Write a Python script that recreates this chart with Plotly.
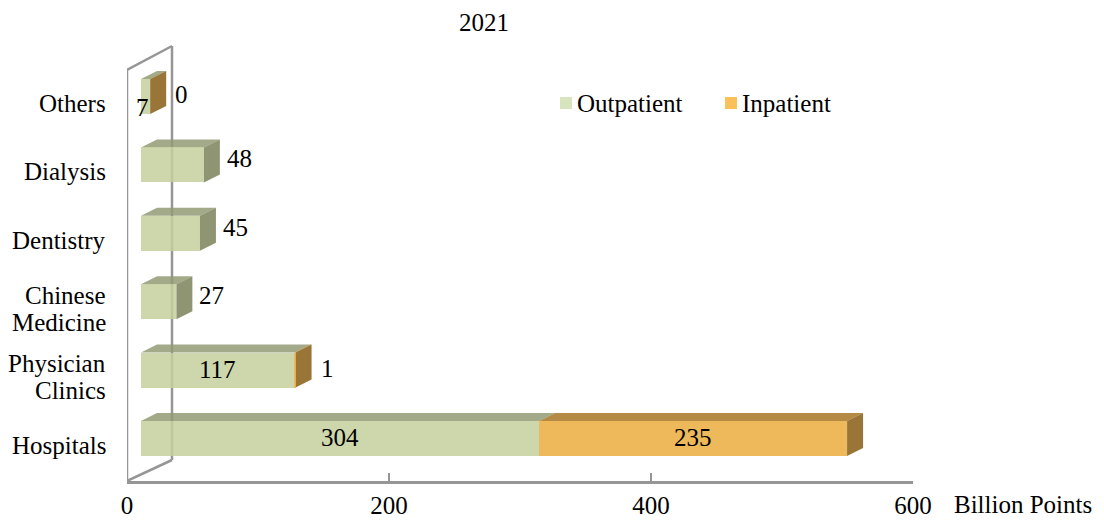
import plotly.graph_objects as go

# ---------------- data ----------------
categories = ["Hospitals", "Physician\nClinics", "Chinese\nMedicine", "Dentistry", "Dialysis", "Others"]
outpatient = [304, 117, 27, 45, 48, 7]
inpatient = [235, 1, None, None, None, 0]
x_ticks = [0, 200, 400, 600]
title_text = "2021"
x_unit = "Billion Points"
series_names = ["Outpatient", "Inpatient"]

# label placement (style)
out_label_pos = ["inside", "inside", "outside", "outside", "outside", "low"]

# ---------------- geometry / style ----------------
PAGE = 8                    # browser body margin
W, H = 1104 - PAGE, 520 - PAGE
ML, MT = 127, 20            # reference-frame pixel positions of plot area
PW, PH = 786, 461
XMAX = 600
K = PW / XMAX               # px per unit
OFF = 14 / K                # bar front-face offset from floor front
DX = 16 / K                 # bar depth (x)
DY = 8                      # bar depth (y, px == y units)
BAR_H = 35
Y0 = 42.5
STEP = 68.4
WALL_DX = 45 / K
WALL_DY = 21
FONT = "Liberation Serif"
FS = 25
GREY = "rgb(150,150,150)"
BOTTOM = MT + PH            # 481

front = ["rgba(197,207,157,0.85)", "rgba(234,173,61,0.85)"]
top = ["rgba(147,155,117,0.85)", "rgba(168,117,36,0.85)"]
side = ["rgba(123,131,91,0.85)", "rgba(136,93,21,0.85)"]
legend_col = ["rgb(215,228,189)", "rgb(250,192,90)"]

ypos = [Y0 + i * STEP for i in range(len(categories))]

fig = go.Figure()
shapes = []
annotations = []


def px_x(px):
    return (px - ML) / PW


def px_y(py):
    return (BOTTOM - py) / PH


def line(x0, y0, x1, y1, layer="below"):
    shapes.append(dict(type="line", xref="x", yref="y", x0=x0, y0=y0, x1=x1, y1=y1,
                       line=dict(color=GREY, width=2.5), layer=layer))


# side wall
line(WALL_DX, WALL_DY, WALL_DX, BOTTOM - 46)
line(0, 0, WALL_DX, WALL_DY)
line(0, BOTTOM - 70, WALL_DX, BOTTOM - 46)
line(0, 0, 0, BOTTOM - 70, layer="above")


def poly(pts, color):
    path = "M " + " L ".join(f"{x},{y}" for x, y in pts) + " Z"
    shapes.append(dict(type="path", xref="x", yref="y", path=path,
                       fillcolor=color, line=dict(width=0), layer="below"))


# bars (front faces)
series = [outpatient, inpatient]
for s, vals in enumerate(series):
    xs, ys, bases = [], [], []
    for i, v in enumerate(vals):
        if v is None:
            continue
        cum = sum((series[k][i] or 0) for k in range(s))
        xs.append(v)
        ys.append(ypos[i])
        bases.append(OFF + cum)
    fig.add_trace(go.Bar(x=xs, y=ys, base=bases, orientation="h", width=BAR_H,
                         marker=dict(color=front[s], line=dict(width=0)),
                         name=series_names[s], showlegend=False, hoverinfo="skip"))

# top and side faces
for i in range(len(categories)):
    yc = ypos[i]
    yt = yc + BAR_H / 2
    yb = yc - BAR_H / 2
    cum = 0
    last = 0
    for s, vals in enumerate(series):
        v = vals[i]
        if v is None:
            continue
        x0 = OFF + cum
        x1 = OFF + cum + v
        poly([(x0, yt), (x1, yt), (x1 + DX, yt + DY), (x0 + DX, yt + DY)], top[s])
        cum += v
        last = s
    xe = OFF + cum
    poly([(xe, yb), (xe, yt), (xe + DX, yt + DY), (xe + DX, yb + DY)], side[last])


def ann(x, y, text, xanchor="center", xshift=0, yshift=0, xref="x", yref="y"):
    annotations.append(dict(x=x, y=y, xref=xref, yref=yref, text=text, showarrow=False,
                            xanchor=xanchor, yanchor="middle", xshift=xshift, yshift=yshift,
                            borderpad=0,
                            font=dict(family=FONT, size=FS, color="black")))


# value labels
for i in range(len(categories)):
    v = outpatient[i]
    yc = ypos[i]
    pos = out_label_pos[i]
    if pos == "inside":
        ann(OFF + v / 2, yc, str(v), yshift=1)
    elif pos == "outside":
        ann(OFF + v + DX, yc, str(v), xanchor="left", xshift=6, yshift=6)
    else:
        ann(OFF + v / 2, yc, str(v), xshift=-3, yshift=-11)
    w = inpatient[i]
    if w is None:
        continue
    if w >= 50:
        ann(OFF + v + w / 2, yc, str(w), yshift=1)
    else:
        ann(OFF + v + w + DX, yc, str(w), xanchor="left", xshift=8, yshift=2)

# category labels (right-aligned block, centred lines)
for i, c in enumerate(categories):
    lines = c.split("\n")
    n = len(lines)
    for j, t in enumerate(lines):
        off = ((n - 1) / 2 - j) * 27
        ann(px_x(107), ypos[i], t, xanchor="right", yshift=off - 7, xref="paper")

# title and unit
ann(px_x(484), px_y(22), title_text, xref="paper", yref="paper")
ann(px_x(1093), px_y(504), x_unit, xanchor="right", xref="paper", yref="paper")

# legend (manual)
leg_x = [560, 725]
for s in range(2):
    p0 = leg_x[s]
    shapes.append(dict(type="rect", xref="paper", yref="paper",
                       x0=px_x(p0), x1=px_x(p0 + 12), y0=px_y(109), y1=px_y(97),
                       fillcolor=legend_col[s], line=dict(width=0), layer="above"))
    ann(px_x(p0 + 16), px_y(103), series_names[s], xanchor="left", xref="paper", yref="paper")

fig.update_layout(
    width=W, height=H,
    margin=dict(l=ML - PAGE, r=W - (ML - PAGE) - PW, t=MT - PAGE, b=H - (MT - PAGE) - PH),
    paper_bgcolor="white", plot_bgcolor="rgba(0,0,0,0)",
    barmode="overlay", bargap=0,
    shapes=shapes, annotations=annotations,
    showlegend=False, hovermode=False,
    xaxis=dict(range=[0, XMAX], tickvals=x_ticks, ticktext=[str(t) for t in x_ticks],
               showgrid=False, zeroline=False, showline=True, linecolor=GREY, linewidth=2.5,
               ticks="inside", ticklen=8, tickwidth=2, tickcolor=GREY,
               tickfont=dict(family=FONT, size=FS, color="black"), ticklabelstandoff=0,
               automargin=False, fixedrange=True),
    yaxis=dict(range=[0, PH], visible=False, automargin=False, fixedrange=True),
)

fig.write_html("out.html")
